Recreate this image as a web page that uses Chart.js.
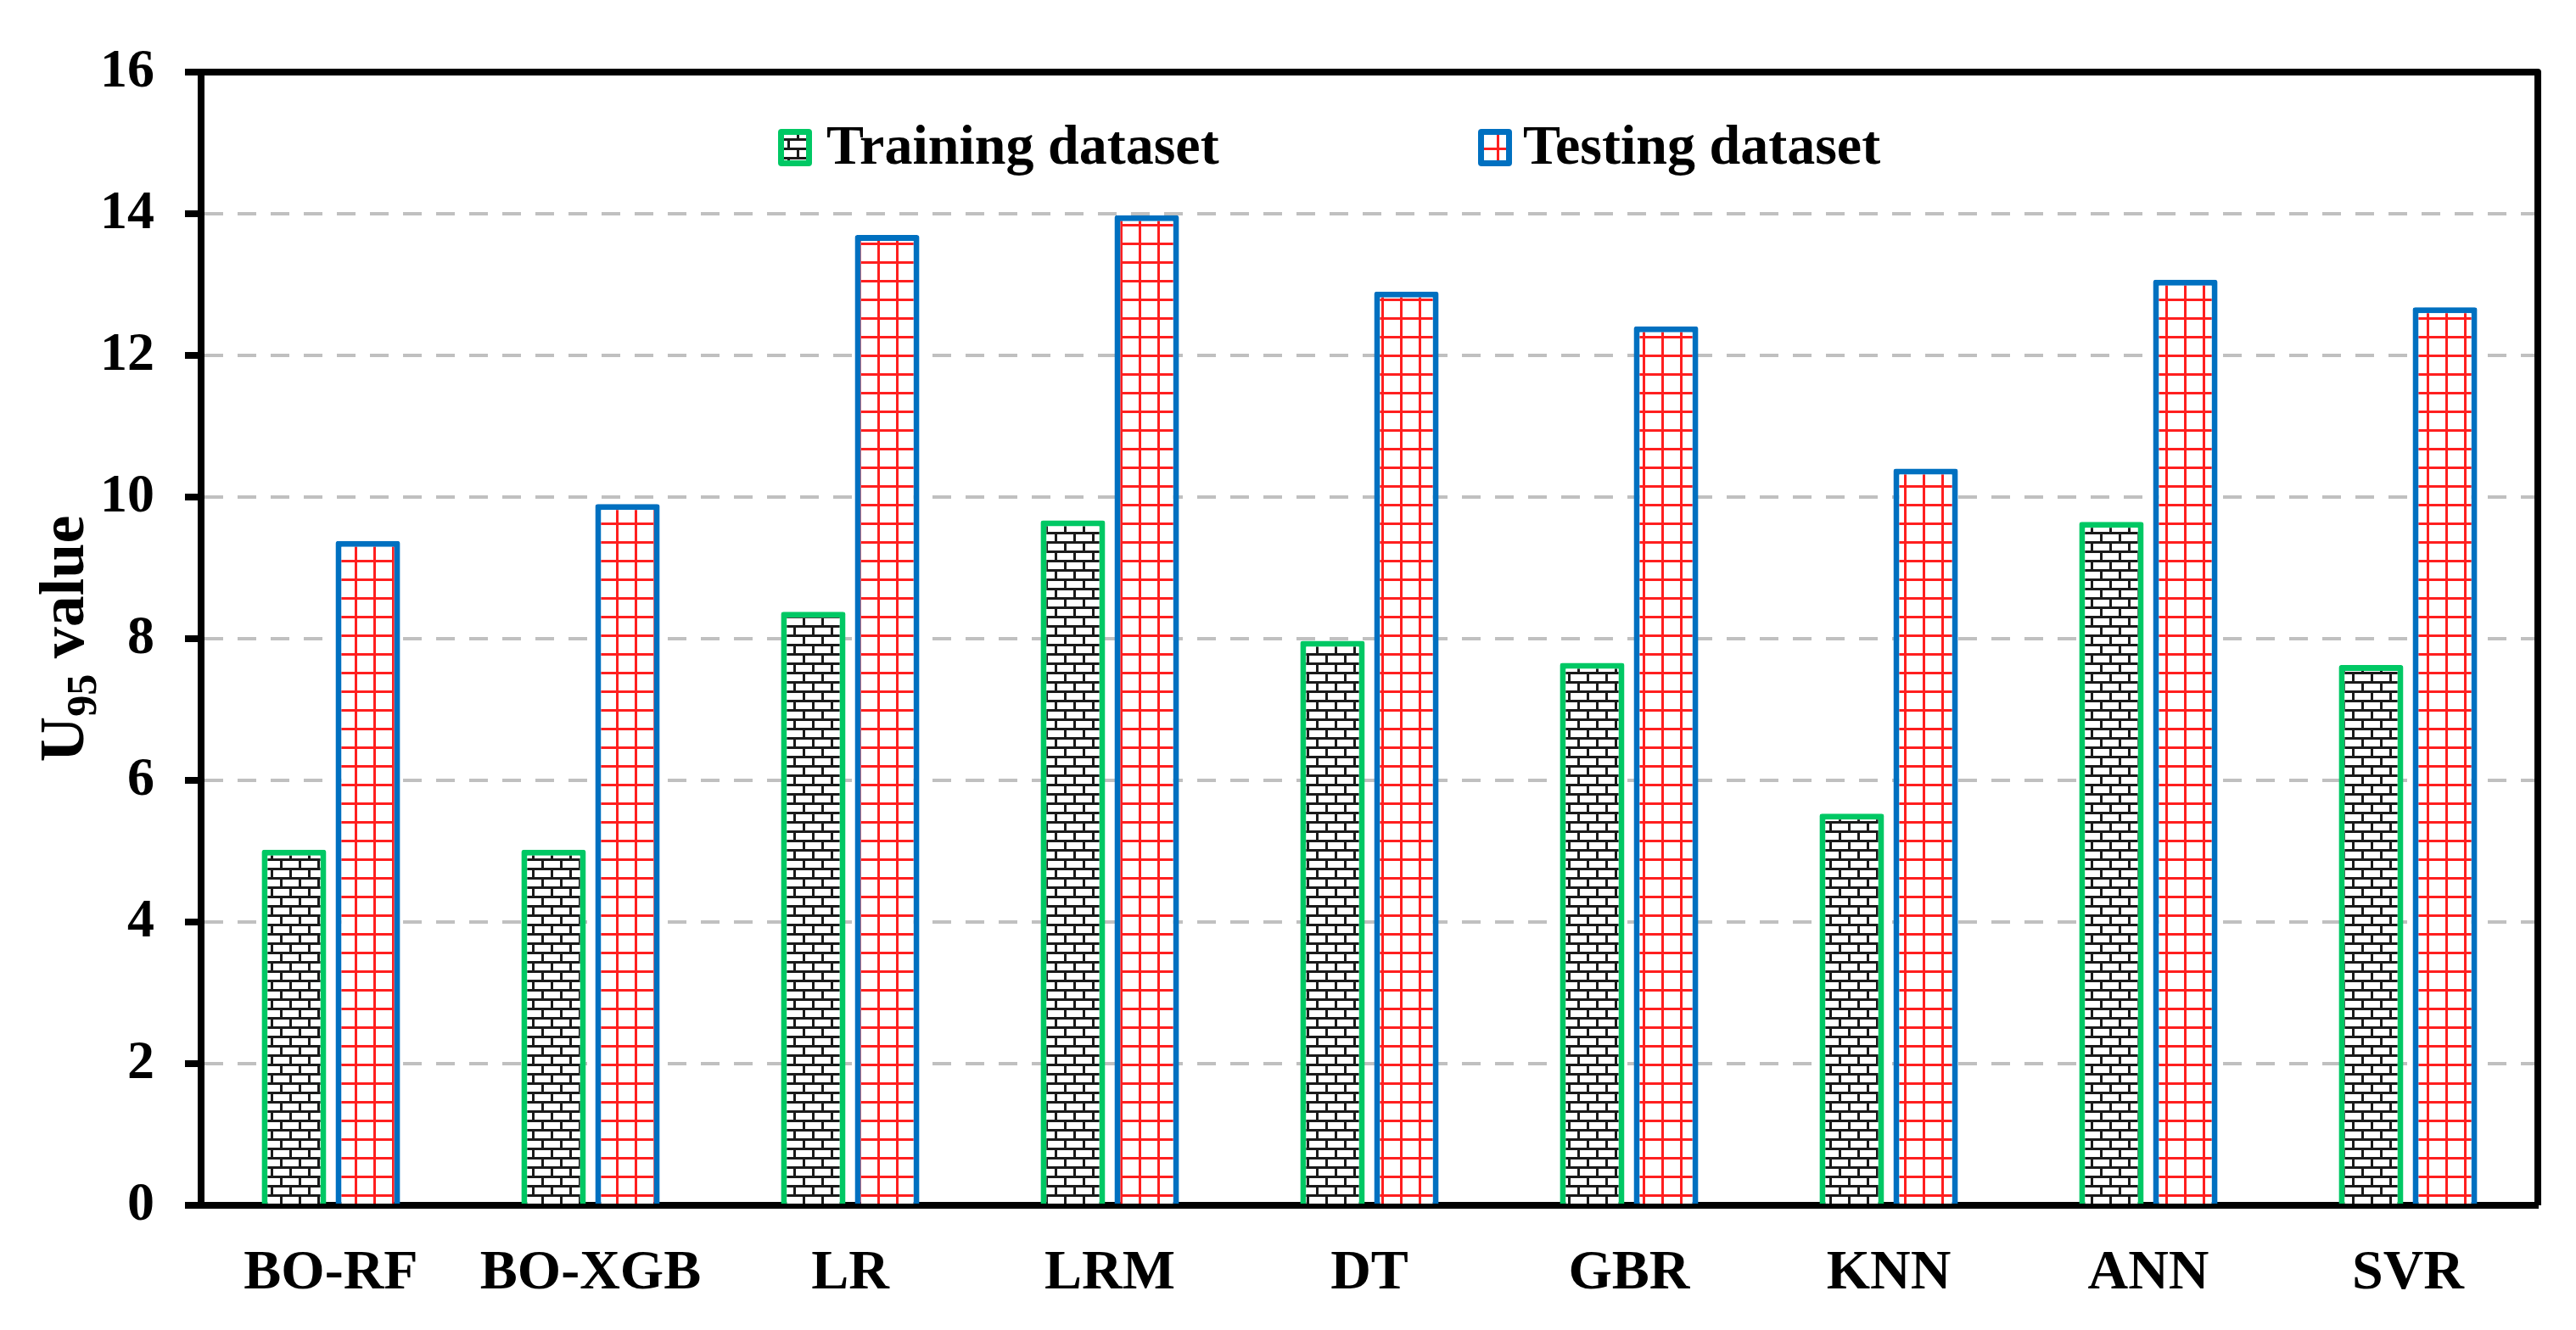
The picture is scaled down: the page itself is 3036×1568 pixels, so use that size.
<!DOCTYPE html>
<html>
<head>
<meta charset="utf-8">
<script src="https://cdn.jsdelivr.net/npm/chart.js@4.4.1/dist/chart.umd.min.js"></script>
<style>
    html, body { margin: 0; padding: 0; background: #fff; }
    #wrap { position: relative; width: 3036px; height: 1568px; }
    #u95Chart { display: block; }
    .legend-text {
        position: absolute; top: 138px;
        font: bold 66px "Liberation Serif", "Times New Roman", serif;
        line-height: 66px; color: #000; white-space: nowrap;
    }
    .swatch { position: absolute; top: 152px; width: 40px; height: 44px; }
</style>
</head>
<body>
<div id="wrap">
    <canvas id="u95Chart"></canvas>
    <canvas class="swatch" id="swTrain" width="40" height="44" style="left:917px"></canvas>
    <div class="legend-text" style="left:974px">Training dataset</div>
    <canvas class="swatch" id="swTest" width="40" height="44" style="left:1742px"></canvas>
    <div class="legend-text" style="left:1795px">Testing dataset</div>
</div>
<script>
// data
const models = ['BO-RF', 'BO-XGB', 'LR', 'LRM', 'DT', 'GBR', 'KNN', 'ANN', 'SVR'];
const trainingU95 = [5.02, 5.02, 8.38, 9.67, 7.97, 7.66, 5.53, 9.65, 7.63];
const testingU95 = [9.38, 9.9, 13.7, 13.98, 12.9, 12.41, 10.4, 13.07, 12.68];
const yRange = [0, 16];
const yStep = 2;

const GREEN = '#00c864';
const BLUE = '#0070c0';
const FONT = '"Liberation Serif", "Times New Roman", serif';

// brick fill for the training bars
function brickPattern(ctx) {
    const c = document.createElement('canvas');
    c.width = 22; c.height = 22;
    const g = c.getContext('2d');
    g.fillStyle = '#fff';
    g.fillRect(0, 0, 22, 22);
    g.fillStyle = '#1a1a1a';
    g.fillRect(0, 0, 22, 3);
    g.fillRect(0, 11, 22, 3);
    g.fillRect(0, 0, 3, 11);
    g.fillRect(11, 11, 3, 11);
    return ctx.createPattern(c, 'repeat');
}

// red grid fill for the testing bars
function gridPattern(ctx) {
    const c = document.createElement('canvas');
    c.width = 22; c.height = 22;
    const g = c.getContext('2d');
    g.fillStyle = '#fff';
    g.fillRect(0, 0, 22, 22);
    g.fillStyle = '#ff1f1f';
    g.fillRect(0, 0, 22, 3);
    g.fillRect(0, 0, 3, 22);
    return ctx.createPattern(c, 'repeat');
}

function drawSwatch(id, border, makePattern) {
    const cv = document.getElementById(id);
    const g = cv.getContext('2d');
    g.fillStyle = border;
    g.beginPath();
    g.roundRect(0, 0, cv.width, cv.height, 4);
    g.fill();
    g.fillStyle = makePattern(g);
    g.fillRect(7, 7, cv.width - 14, cv.height - 14);
}

const canvas = document.getElementById('u95Chart');
const ctx = canvas.getContext('2d');

// top and right edges of the frame
const framePlugin = {
    id: 'frame',
    afterDraw(chart) {
        const a = chart.chartArea;
        const c = chart.ctx;
        c.save();
        c.strokeStyle = '#000';
        c.lineWidth = 8;
        c.lineJoin = 'round';
        c.beginPath();
        c.moveTo(a.left, a.top);
        c.lineTo(a.right, a.top);
        c.lineTo(a.right, a.bottom);
        c.stroke();
        c.restore();
    }
};

// y title with the subscript 95
const yTitlePlugin = {
    id: 'yTitle',
    afterDraw(chart) {
        const a = chart.chartArea;
        const c = chart.ctx;
        const main = 'bold 74px ' + FONT;
        const sub = 'bold 50px ' + FONT;
        c.save();
        c.fillStyle = '#000';
        c.textBaseline = 'alphabetic';
        c.font = main;
        const wU = c.measureText('U').width;
        const wV = c.measureText(' value').width;
        c.font = sub;
        const w95 = c.measureText('95').width;
        const total = wU + w95 + wV;
        c.translate(a.left - 139, (a.top + a.bottom) / 2);
        c.rotate(-Math.PI / 2);
        let x = -total / 2;
        c.font = main;
        c.fillText('U', x, 0);
        x += wU;
        c.font = sub;
        c.fillText('95', x, 15);
        x += w95;
        c.font = main;
        c.fillText(' value', x, 0);
        c.restore();
    }
};

new Chart(canvas, {
    type: 'bar',
    data: {
        labels: models,
        datasets: [{
            label: 'Training dataset',
            data: trainingU95,
            backgroundColor: brickPattern(ctx),
            borderColor: GREEN,
            borderWidth: 7,
            borderRadius: 3,
            categoryPercentage: 0.569,
            barPercentage: 0.874
        }, {
            label: 'Testing dataset',
            data: testingU95,
            backgroundColor: gridPattern(ctx),
            borderColor: BLUE,
            borderWidth: 7,
            borderRadius: 3,
            categoryPercentage: 0.569,
            barPercentage: 0.874
        }]
    },
    options: {
        responsive: true,
        maintainAspectRatio: false,
        animation: false,
        layout: { padding: { top: 85, right: 45, left: 0, bottom: 0 } },
        plugins: {
            legend: { display: false },
            tooltip: { enabled: false }
        },
        scales: {
            x: {
                grid: { drawOnChartArea: false, drawTicks: false },
                border: { color: '#000', width: 8 },
                ticks: {
                    color: '#000',
                    padding: 41,
                    font: { family: FONT, size: 66, weight: 'bold' }
                },
                afterFit: (scale) => { scale.height = 147; }
            },
            y: {
                min: yRange[0],
                max: yRange[1],
                grid: {
                    color: '#c0c0c0',
                    lineWidth: 4,
                    tickColor: '#000',
                    tickWidth: 8,
                    tickLength: 19,
                    tickBorderDash: []
                },
                border: { color: '#000', width: 8, dash: [22, 17] },
                ticks: {
                    stepSize: yStep,
                    color: '#000',
                    padding: 36,
                    font: { family: FONT, size: 64, weight: 'bold' }
                },
                afterFit: (scale) => { scale.width = 237; }
            }
        }
    },
    plugins: [framePlugin, yTitlePlugin]
});

drawSwatch('swTrain', GREEN, brickPattern);
drawSwatch('swTest', BLUE, gridPattern);
</script>
</body>
</html>
